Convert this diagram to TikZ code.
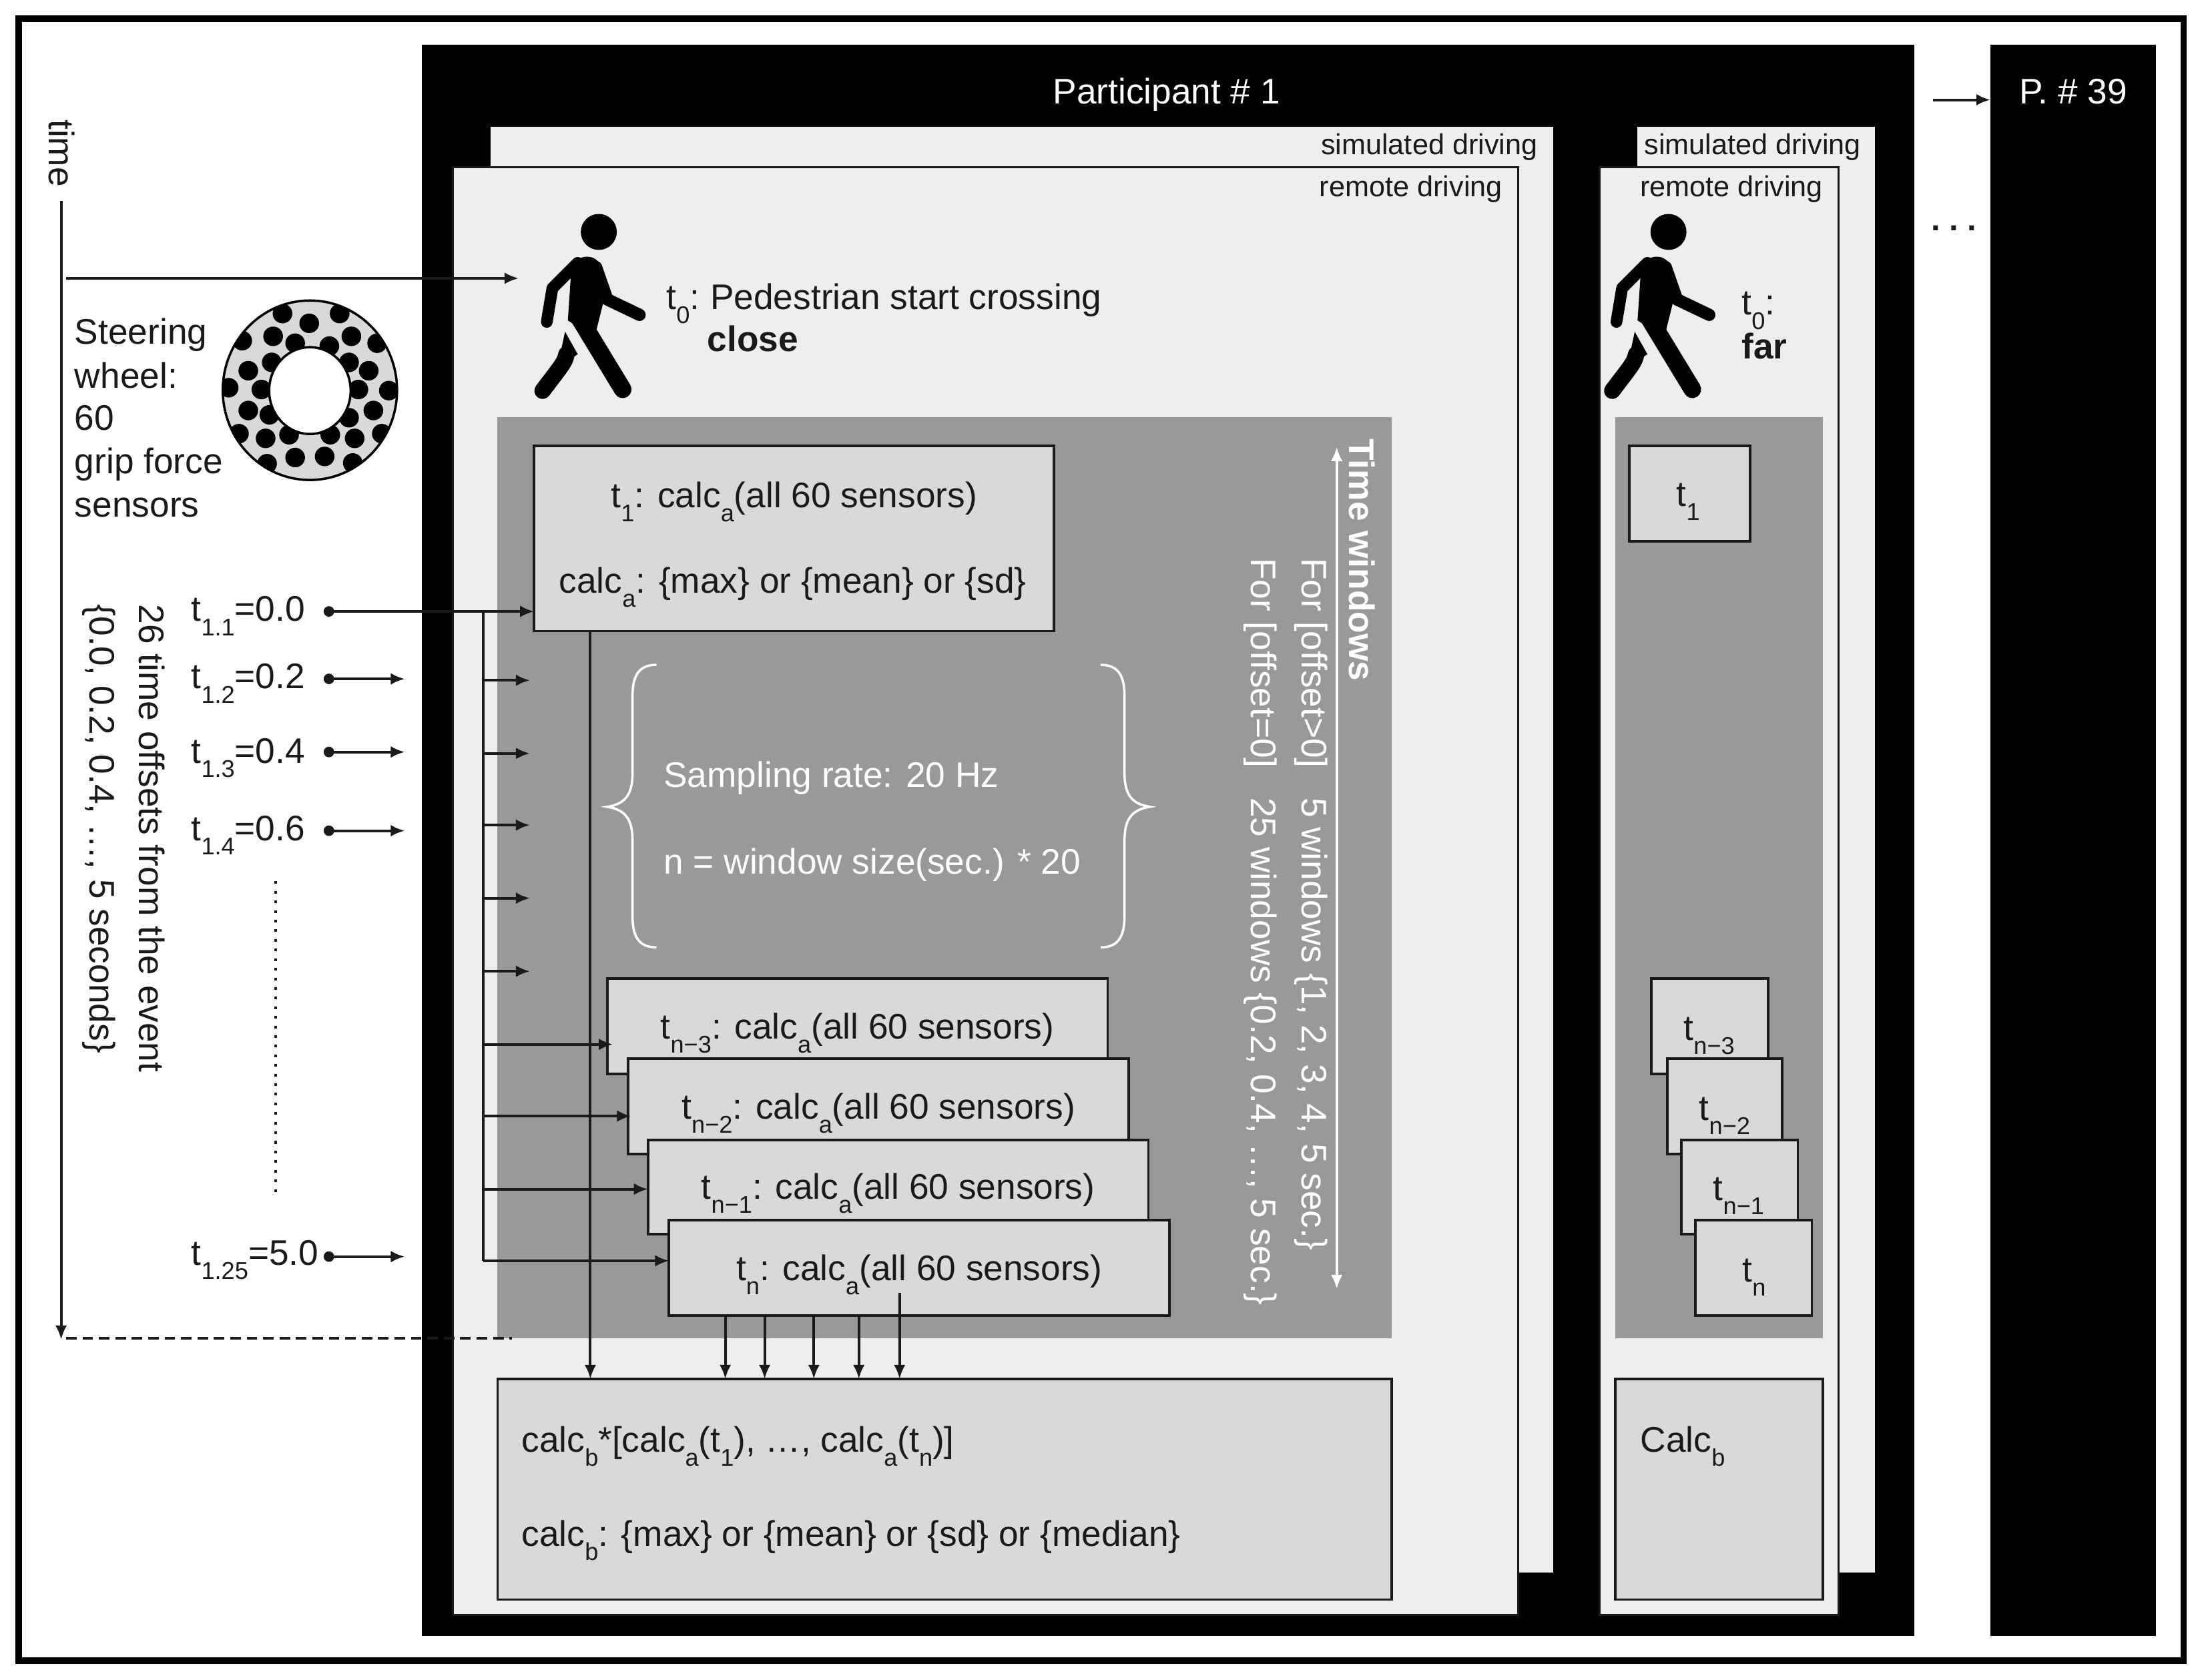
\documentclass[tikz,border=0pt]{standalone}
\usepackage{fontspec}
\usepackage{graphicx}
\setmainfont{Liberation Sans}
\usetikzlibrary{arrows.meta,fit,calc}
\definecolor{pale}{HTML}{EEEEEE}
\definecolor{midg}{HTML}{999999}
\definecolor{lightg}{HTML}{D9D9D9}
\definecolor{inkc}{HTML}{1A1A1A}
\newcommand{\sbs}[1]{\raisebox{-.4em}{\scalebox{.68}{#1}}}
\newcommand{\calca}{calc\sbs{a}}
\newcommand{\calcb}{calc\sbs{b}}
\tikzset{
  panel/.style={fit={#1},inner sep=0pt,outer sep=0pt},
  blackbox/.style={fill=black,draw=none},
  simbox/.style={fill=pale,draw=none},
  rembox/.style={fill=pale,draw=inkc,line width=1.8pt},
  greybox/.style={fill=midg,draw=none},
  calcbox/.style={fill=lightg,draw=inkc,line width=2.2pt},
  txt/.style={anchor=base west,inner sep=0pt,text=inkc,font=\fontsize{30.3}{36}\selectfont},
  txtc/.style={anchor=base,inner sep=0pt,text=inkc,font=\fontsize{30.3}{36}\selectfont},
  small/.style={anchor=base east,inner sep=0pt,text=inkc,font=\fontsize{24.6}{30}\selectfont},
  vtxt/.style={rotate=-90,anchor=base west,inner sep=0pt,text=inkc,font=\fontsize{30.3}{36}\selectfont},
  wtxt/.style={txt,text=white},
  vwtxt/.style={vtxt,text=white},
  arr/.style={draw=inkc,line width=2.3pt,-{Latex[length=12pt,width=10pt]}},
  wire/.style={draw=inkc,line width=2.3pt},
  dotn/.style={circle,fill=inkc,inner sep=0pt,minimum size=9pt},
}
\newcommand{\walker}[1]{%
\begin{scope}[shift={(#1,0)}]
  \fill[black] (426,165) circle (12.8);
  % back leg
  \fill[black] (402,236) -- (411,252) -- (396,262) -- (399,250) -- cycle;
  \draw[black,line width=14pt,line cap=round,line join=round] (403,252) .. controls (402,258) and (398,262) .. (386,278);
  % back arm
  \draw[black,line width=10pt,line cap=round,line join=round] (411,187) -- (393,205) -- (389,229);
  % front arm
  \draw[black,line width=10.5pt,line cap=round,line join=round] (424,190) -- (432,213) -- (455,224);
  % front leg gap
  \draw[pale,line width=21pt,line cap=butt] (413,228) -- (428,254);
  % front leg
  \draw[black,line width=15pt,line cap=round,line join=round] (412,226) -- (443,277);
  % torso
  \fill[black] (406,198) -- (412,184) .. controls (418,181) and (424,183) .. (427,188) -- (430,212) -- (423,240) -- (404,228) -- cycle;
\end{scope}}
\begin{document}
\begin{tikzpicture}[x=0.04212cm,y=-0.04212cm]
\useasboundingbox (0,0) rectangle (1568,1195);
\draw[black,line width=5.6pt] (13.3,13.3) rectangle (1553.5,1181.5);

% participants
\node[panel={(300,32)(1362,1164)},blackbox] (p1) {};
\node[panel={(1416,32)(1534,1164)},blackbox] (p39) {};
\node[panel={(349,90)(1105,1119)},simbox] (sim1) {};
\node[panel={(322,119)(1080,1149)},rembox] (rem1) {};
\node[panel={(1165,90)(1334,1119)},simbox] (sim2) {};
\node[panel={(1138,119)(1308,1149)},rembox] (rem2) {};
\node[panel={(354,297)(990,952)},greybox] (grey1) {};
\node[panel={(1149,297)(1297,952)},greybox] (grey2) {};

\node[txtc,text=white] (ptitle) at (830,74) {Participant \# 1};
\node[txtc,text=white] (ptitleb) at (1475,74) {P. \# 39};
\node[small] (lsim1) at (1094,110) {simulated driving};
\node[small] (lrem1) at (1069,140) {remote driving};
\node[small] (lsim2) at (1324,110) {simulated driving};
\node[small] (lrem2) at (1297,140) {remote driving};

% walkers
\walker{0}
\walker{761}
\node[txt] (t0a) at (474,220) {t\sbs{0}:\kern-.07em{} Pedestrian start crossing};
\node[txt] (t0b) at (503,250) {\bfseries close};
\node[txt] (t0c) at (1239,224) {t\sbs{0}:};
\node[txt] (t0d) at (1239,255) {\bfseries far};

% steering wheel
\begin{scope}[shift={(0,71.2)},xscale=0.3333,yscale=0.2574]
  \begin{scope}
    \clip (661.5,802) ellipse [x radius=186,y radius=248];
    \fill[lightg] (661.5,802) ellipse [x radius=186,y radius=248];
    \foreach \px/\py in {603/590,660/617,725/590,517/665,583/653,750/653,805/672,630/672,703/680,580/725,745/725,530/748,787/748,488/795,558/800,765/800,830/803,530/858,575/870,797/858,745/878,510/922,567/935,617/925,705/925,757/935,815/922,570/1005,630/988,693/985,753/1003}
      \fill[black] (\px,\py) ellipse [x radius=21,y radius=27];
  \end{scope}
  \draw[black,line width=2pt] (661.5,802) ellipse [x radius=186,y radius=248];
  \draw[black,fill=white,line width=2pt] (661.5,803) ellipse [x radius=87,y radius=120];
\end{scope}
\node[txt] (st1) at (53,245) {Steering};
\node[txt] (st2) at (53,276) {wheel:};
\node[txt] (st3) at (53,306) {60};
\node[txt] (st4) at (53,337) {grip force};
\node[txt] (st5) at (53,368) {sensors};

% time labels
\node[vtxt] (ltime) at (35,85) {time};
\node[vtxt] (loff1) at (99,430) {26 time offsets from the event};
\node[vtxt] (loff2) at (64,430) {\{0.0, 0.2, 0.4, \dots, 5 seconds\}};
\node[txt] (o1) at (136,442) {t\sbs{1.1}=0.0};
\node[txt] (o2) at (136,490) {t\sbs{1.2}=0.2};
\node[txt] (o3) at (136,543) {t\sbs{1.3}=0.4};
\node[txt] (o4) at (136,598) {t\sbs{1.4}=0.6};
\node[txt] (o5) at (136,900) {t\sbs{1.25}=5.0};

% calc boxes
\node[panel={(380,317)(750,449)},calcbox] (bt1) {};
\node[txtc] (bt1a) at (565,361) {t\sbs{1}: \calca(all 60 sensors)};
\node[txtc] (bt1b) at (564,422) {\calca: \{max\} or \{mean\} or \{sd\}};
\node[panel={(354,981)(990,1138)},calcbox] (bot1) {};
\node[txt] (bot1a) at (371,1033) {\calcb*[\calca(t\sbs{1}), \dots, \calca(t\sbs{n})]};
\node[txt] (bot1b) at (371,1100) {\calcb: \{max\} or \{mean\} or \{sd\} or \{median\}};

% white annotation
\node[wtxt] (sr) at (472,560) {Sampling rate: 20 Hz};
\node[wtxt] (ws) at (472,622) {n = window size(sec.) * 20};
\path (467,473) coordinate (bl1) (432,574) coordinate (bl2) (467,674) coordinate (bl3);
\draw[white,line width=2pt] (bl1) .. controls (455,473) and (450,480) .. (450,495) -- (450,550) .. controls (450,565) and (445,572) .. (bl2) .. controls (445,576) and (450,583) .. (450,598) -- (450,652) .. controls (450,667) and (455,674) .. (bl3);
\path (783,473) coordinate (br1) (818,574) coordinate (br2) (783,674) coordinate (br3);
\draw[white,line width=2pt] (br1) .. controls (795,473) and (800,480) .. (800,495) -- (800,550) .. controls (800,565) and (805,572) .. (br2) .. controls (805,576) and (800,583) .. (800,598) -- (800,652) .. controls (800,667) and (795,674) .. (br3);
\node[vwtxt,font=\bfseries\fontsize{30.3}{36}\selectfont] (tw) at (960,312) {Time windows};
\node[vwtxt] (tw1) at (926,397) {For [offset>0]\ \ \ 5 windows \{1, 2, 3, 4, 5 sec.\}};
\node[vwtxt] (tw2) at (890,397) {For [offset=0]\ \ \ 25 windows \{0.2, 0.4, \dots, 5 sec.\}};
\coordinate (ta) at (951,318);
\coordinate (tb) at (951,917);
\draw[white,line width=2.2pt,{Latex[length=12pt,width=10pt]}-{Latex[length=12pt,width=10pt]}] (ta) -- (tb);

% left connectors
\coordinate (taxs) at (43.5,143);
\coordinate (taxe) at (43.5,953);
\draw[arr] (taxs) -- (taxe);
\coordinate (dsta) at (47,952);
\coordinate (dstb) at (364,952);
\draw[draw=inkc,line width=2.3pt,dash pattern=on 9pt off 5pt] (dsta) -- (dstb);
\coordinate (ev) at (47,198);
\coordinate (evt) at (369,198);
\draw[arr] (ev) -- (evt);
\node[dotn] (d1) at (234,435) {};
\node[dotn] (d2) at (234,483) {};
\node[dotn] (d3) at (234,535) {};
\node[dotn] (d4) at (234,591) {};
\node[dotn] (d5) at (234,894) {};
\foreach \n in {2,3,4,5} { \draw[arr] (d\n.center) -- ++(54,0); }
\coordinate (dv1) at (196,627);
\coordinate (dv2) at (196,851);
\draw[draw=inkc,line width=2.3pt,dash pattern=on 2.3pt off 5.9pt] (dv1) -- (dv2);
\draw[arr] (d1.center) -- (d1 -| bt1.west);

% stacks
\node[panel={(432,696)(788,764)},calcbox] (s3) {};
\node[txtc] (s3t) at (610,739) {t\sbs{n−3}: \calca(all 60 sensors)};
\node[panel={(447,753)(803,821)},calcbox] (s2) {};
\node[txtc] (s2t) at (625,796) {t\sbs{n−2}: \calca(all 60 sensors)};
\node[panel={(461,811)(817,878)},calcbox] (s1) {};
\node[txtc] (s1t) at (639,853) {t\sbs{n−1}: \calca(all 60 sensors)};
\node[panel={(476,868)(832,936)},calcbox] (s0) {};
\node[txtc] (s0t) at (654,911) {t\sbs{n}: \calca(all 60 sensors)};

% bus
\coordinate (busTop) at (344,435);
\coordinate (busBot) at (344,897);
\draw[wire] (busTop) -- (busBot);
\foreach \yy in {484,536,587,639,691} { \draw[arr] (344,\yy) -- (377,\yy); }
\draw[arr] (344,743) -- (436,743);
\draw[arr] (344,794) -- (449,794);
\draw[arr] (344,846) -- (461,846);
\draw[arr] (busBot) -- (476,897);

% down arrows
\draw[arr] (bt1.south -| 420,0) -- (bot1.north -| 420,0);
\foreach \xx in {516,544,579,611} { \draw[arr] (s0.south -| \xx,0) -- (bot1.north -| \xx,0); }
\coordinate (s0in) at (640,920);
\draw[arr] (s0in) -- (bot1.north -| s0in);

% right column
\node[panel={(1159,317)(1245,385)},calcbox] (r1) {};
\node[txtc] (r1t) at (1201,360) {t\sbs{1}};
\node[panel={(1175,696)(1258,764)},calcbox] (r3) {};
\node[txtc] (r3t) at (1216,740) {t\sbs{n−3}};
\node[panel={(1186,753)(1268,821)},calcbox] (r2) {};
\node[txtc] (r2t) at (1227,797) {t\sbs{n−2}};
\node[panel={(1196,811)(1279,878)},calcbox] (r4) {};
\node[txtc] (r4t) at (1237,854) {t\sbs{n−1}};
\node[panel={(1206,868)(1289,936)},calcbox] (r0) {};
\node[txtc] (r0t) at (1248,912) {t\sbs{n}};
\node[panel={(1149,981)(1297,1138)},calcbox] (bot2) {};
\node[txt] (bot2t) at (1167,1033) {Calc\sbs{b}};

% far right
\coordinate (pa) at (1375,71);
\draw[arr] (pa) -- (p39.west |- pa);
\node[txtc,font=\bfseries\fontsize{28}{34}\selectfont] (dots) at (1390,164) {.\hspace{.27em}.\hspace{.27em}.};
\end{tikzpicture}
\end{document}
